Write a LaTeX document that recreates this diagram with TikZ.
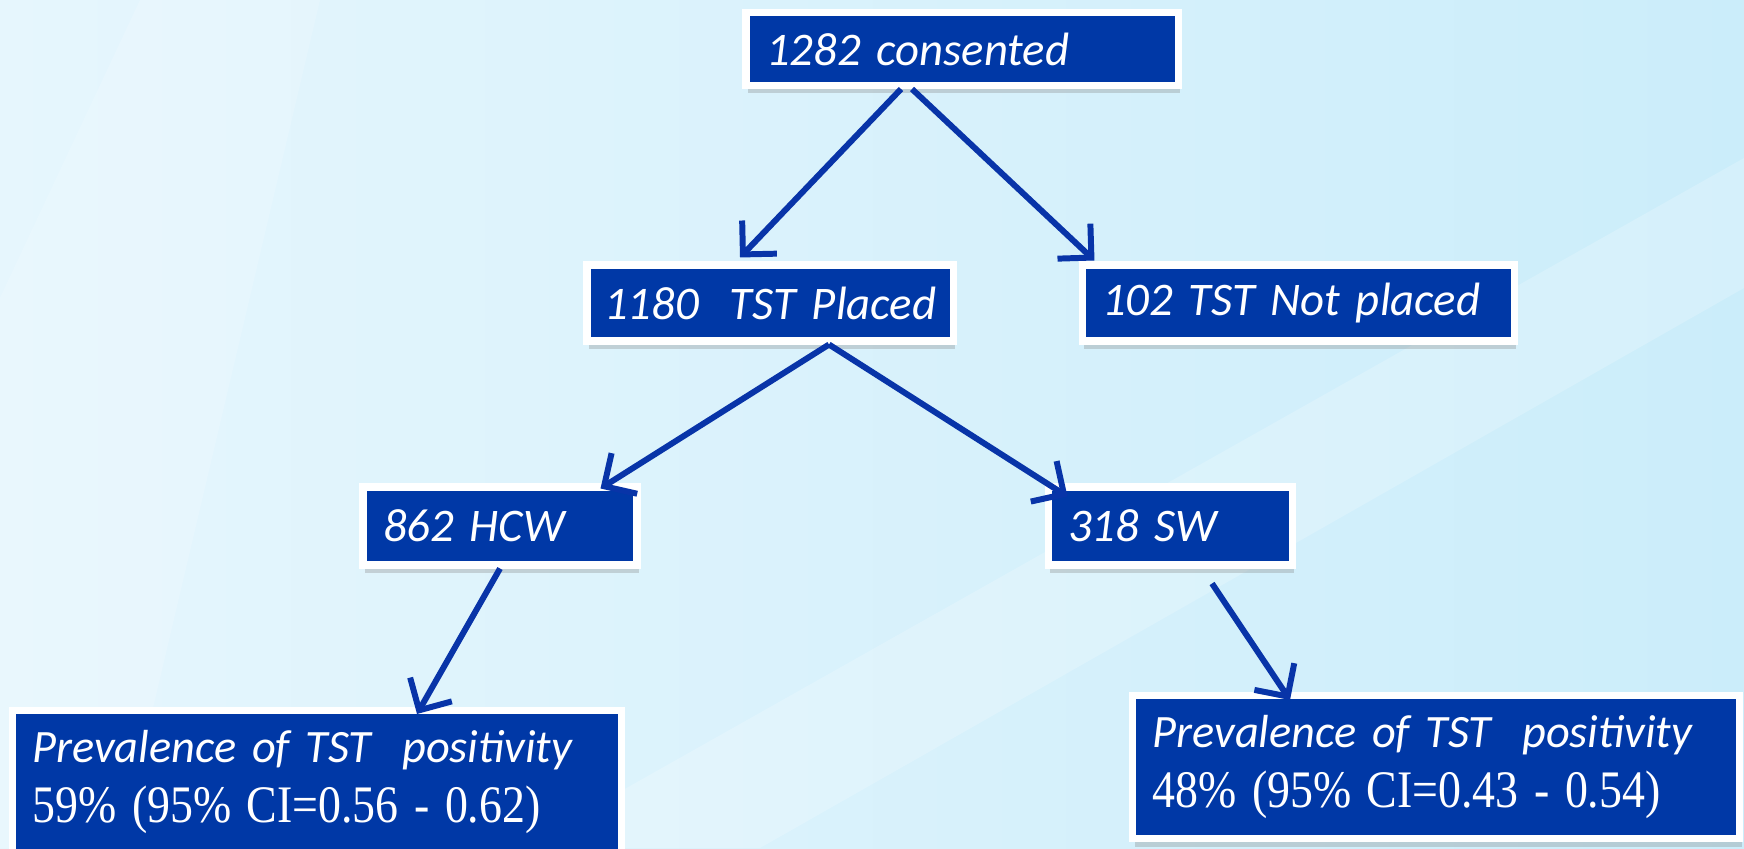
\documentclass[tikz,border=0pt]{standalone}
\usepackage{fontspec}
\setmainfont{Liberation Serif}
\newfontfamily\boxfont{Carlito}
\newfontfamily\cifont[FakeStretch=0.87]{Liberation Serif}
\usetikzlibrary{arrows.meta,shadows}

\definecolor{boxblue}{RGB}{0,56,166}
\definecolor{flowblue}{RGB}{8,52,168}
\definecolor{bgleft}{RGB}{230,246,253}
\definecolor{bgright}{RGB}{203,237,250}

\tikzset{
  tstbox/.style={rectangle,fill=boxblue,draw=white,line width=2pt,text=white,
    align=left,inner xsep=0.2cm,inner ysep=0pt,
    font=\boxfont\itshape\fontsize{13.3}{16}\selectfont,
    drop shadow={opacity=0.3,shadow xshift=0.2mm,shadow yshift=-0.8mm}},
  resbox/.style={tstbox,font=\boxfont\itshape\fontsize{13.2}{17}\selectfont},
  flow/.style={-{Straight Barb[length=2.4mm,width=4.8mm]},line width=1.7pt,draw=flowblue}
}

\begin{document}
\begin{tikzpicture}
\useasboundingbox (0,0) rectangle (17.44,8.48);
\shade[left color=bgleft,right color=bgright] (0,0) rectangle (17.44,8.48);
% faint bands of the background
\fill[white,opacity=0.2] (5.2,0) -- (7.6,0) -- (17.44,5.6) -- (17.44,6.9) -- cycle;
\fill[white,opacity=0.15] (1.4,8.48) -- (3.2,8.48) -- (1.2,0) -- (0,0) -- (0,5.5) -- cycle;

\node (cons) [tstbox,text width=3.92cm,minimum height=0.73cm] at (9.62,7.99) {1282 consented};
\node (placed) [tstbox,text width=3.44cm,inner xsep=0.11cm,minimum height=0.76cm] at (7.70,5.45) {\hspace*{0.06cm}1180\ \ TST Placed};
\node (notpl) [tstbox,text width=3.92cm,minimum height=0.76cm] at (12.98,5.45) {102 TST Not placed};
\node (hcw) [tstbox,text width=2.34cm,minimum height=0.78cm] at (5.00,3.22) {862 HCW};
\node (sw) [tstbox,text width=2.04cm,minimum height=0.78cm] at (11.70,3.22) {318 SW};
\node (prevL) [resbox,text width=5.69cm,minimum height=1.43cm] at (3.17,0.66)
  {Prevalence of TST\ \ positivity\\{\cifont\upshape\fontsize{15}{17}\selectfont 59\% (95\% CI=0.56 - 0.62)}};
\node (prevR) [resbox,text width=5.67cm,minimum height=1.43cm] at (14.36,0.81)
  {Prevalence of TST\ \ positivity\\{\cifont\upshape\fontsize{15}{17}\selectfont 48\% (95\% CI=0.43 - 0.54)}};

\draw [flow] ([xshift=-0.61cm]cons.south) -- ([xshift=-0.30cm,yshift=0.04cm]placed.north);
\draw [flow] ([xshift=-0.50cm]cons.south) -- ([xshift=0.16cm,yshift=0.01cm]notpl.north west);
\draw [flow] ([xshift=0.59cm]placed.south) -- ([xshift=-0.40cm,yshift=-0.05cm]hcw.north east);
\draw [flow] ([xshift=0.59cm]placed.south) -- ([xshift=0.23cm,yshift=-0.13cm]sw.north west);
\draw [flow] (hcw.south) -- ([xshift=1.00cm,yshift=-0.07cm]prevL.north);
\draw [flow] ([xshift=0.42cm,yshift=-0.15cm]sw.south) -- ([xshift=-1.46cm,yshift=-0.08cm]prevR.north);
\end{tikzpicture}
\end{document}
